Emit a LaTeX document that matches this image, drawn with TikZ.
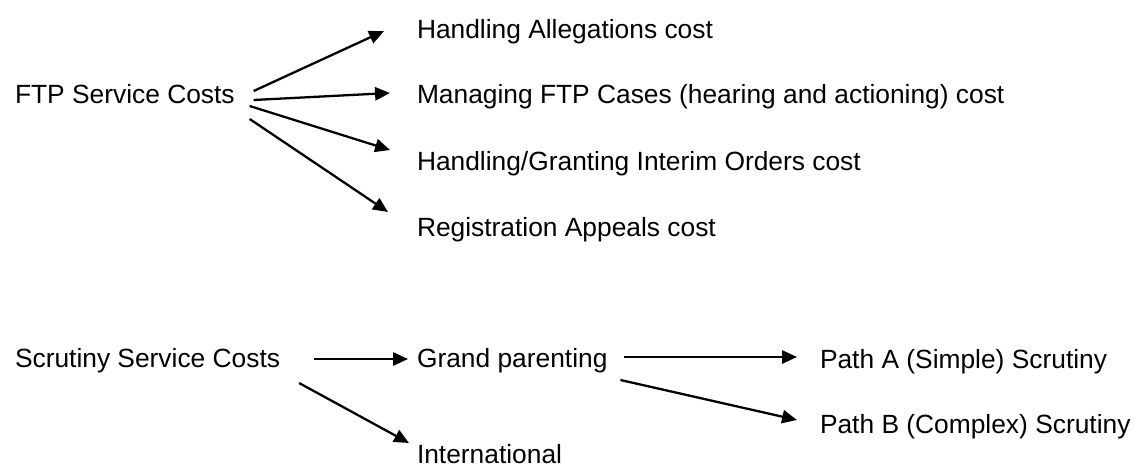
\documentclass[tikz,border=0pt]{standalone}
\usepackage{fontspec}
\setmainfont{Liberation Sans}
\usetikzlibrary{calc,arrows.meta}

\begin{document}
\begin{tikzpicture}[x=0.02cm, y=-0.02cm,
  lbl/.style={inner sep=0pt, outer sep=0pt, anchor=base west, font=\fontsize{15}{18}\selectfont},
  arr/.style={-{Triangle[length=8.5pt,width=7.5pt]}, line width=1.3pt}]
  \useasboundingbox (0,0) rectangle (1134,467);

  % FTP service costs
  \node[lbl] (ftp) at (15,103) {FTP Service Costs};
  \node[lbl] (hac) at (417,38) {Handling Allegations cost};
  \node[lbl] (mfc) at (417,103) {Managing FTP Cases (hearing and actioning) cost};
  \node[lbl] (hgi) at (417,170) {Handling/Granting Interim Orders cost};
  \node[lbl] (rac) at (417,236) {Registration Appeals cost};

  % Scrutiny service costs
  \node[lbl] (ssc) at (15,367) {Scrutiny Service Costs};
  \node[lbl] (gp) at (417,367) {Grand parenting};
  \node[lbl] (intl) at (417,463) {International};
  \node[lbl] (pa) at (820,368) {Path A (Simple) Scrutiny};
  \node[lbl] (pb) at (820,433) {Path B (Complex) Scrutiny};

  % Arrows from FTP
  \draw[arr] ([shift={(19,-12)}]ftp.base east) -- ([shift={(-33,-7)}]hac.base west);
  \draw[arr] ([shift={(19,-3)}]ftp.base east) -- ([shift={(-27,-10)}]mfc.base west);
  \draw[arr] ([shift={(15,3)}]ftp.base east) -- ([shift={(-27,-20)}]hgi.base west);
  \draw[arr] ([shift={(15,16)}]ftp.base east) -- ([shift={(-29,-24)}]rac.base west);

  % Arrows from Scrutiny
  \draw[arr] ([shift={(34,-8)}]ssc.base east) -- ([shift={(-9,-8)}]gp.base west);
  \draw[arr] ([shift={(19,16)}]ssc.base east) -- ([shift={(-8,-20)}]intl.base west);
  \draw[arr] ([shift={(17,-10)}]gp.base east) -- ([shift={(-23,-11)}]pa.base west);
  \draw[arr] ([shift={(13,13)}]gp.base east) -- ([shift={(-23,-13)}]pb.base west);
\end{tikzpicture}
\end{document}
